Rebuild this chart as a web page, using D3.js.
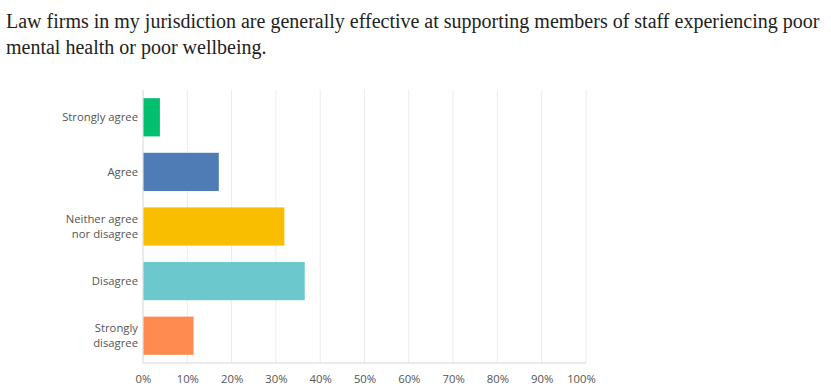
<!DOCTYPE html>
<html>
<head>
<meta charset="utf-8">
<script src="https://cdn.jsdelivr.net/npm/d3@7"></script>
<style>
  body { margin: 0; background: #fff; }
  .title { font-family: "Liberation Serif", "DejaVu Serif", serif; font-size: 20px; fill: #222; }
  .axis text, .cat text { font-family: "Open Sans", "Noto Sans", sans-serif; font-size: 11.3px; fill: #555; }
</style>
</head>
<body>
<div id="grafico"></div>
<script>
var categorias = ["Strongly agree", "Agree", "Neither agree\nnor disagree", "Disagree", "Strongly\ndisagree"];
var valores = [3.7, 17.0, 31.8, 36.4, 11.3];
var cores = ["#00bf6f", "#507cb6", "#f9be00", "#6bc8cd", "#ff8b4f"];
var ticks = [0, 10, 20, 30, 40, 50, 60, 70, 80, 90, 100];
var titulo = ["Law firms in my jurisdiction are generally effective at supporting members of staff experiencing poor",
              "mental health or poor wellbeing."];

var W = 831, H = 388;
var margin = {top: 90, right: 245, bottom: 25, left: 143},
    width = W - margin.left - margin.right,
    height = H - margin.top - margin.bottom;

var svg = d3.select("#grafico").append("svg")
    .attr("width", W)
    .attr("height", H);

// title
svg.selectAll("text.title")
    .data(titulo)
  .enter().append("text")
    .attr("class", "title")
    .attr("x", 6)
    .attr("y", function(d, i) { return 28 + i * 26; })
    .text(function(d) { return d; });

var g = svg.append("g")
    .attr("transform", "translate(" + margin.left + "," + margin.top + ")");

var x = d3.scaleLinear().domain([0, 100]).range([0, width]);
var y = d3.scaleBand().domain(d3.range(categorias.length)).range([0, height])
    .paddingInner(0.3).paddingOuter(0.15);

// gridlines
g.append("g")
    .selectAll("line")
    .data(ticks)
  .enter().append("line")
    .attr("x1", function(d) { return x(d); })
    .attr("x2", function(d) { return x(d); })
    .attr("y1", 0)
    .attr("y2", height)
    .style("stroke", function(d) { return d === 0 ? "#d6d6d6" : "#ececec"; })
    .style("stroke-width", 1);

// baseline
g.append("line")
    .attr("x1", 0).attr("x2", width)
    .attr("y1", height).attr("y2", height)
    .style("stroke", "#d6d6d6");

// bars
g.selectAll("rect.bar")
    .data(valores)
  .enter().append("rect")
    .attr("class", "bar")
    .attr("x", x(0) + 0.5)
    .attr("y", function(d, i) { return y(i); })
    .attr("width", function(d) { return x(d) - x(0); })
    .attr("height", y.bandwidth())
    .style("fill", function(d, i) { return cores[i]; });

// category labels
var cat = g.append("g").attr("class", "cat");
categorias.forEach(function(c, i) {
  var linhas = c.split("\n");
  var t = cat.append("text")
      .attr("text-anchor", "end")
      .attr("x", -5)
      .attr("y", y(i) + y.bandwidth() / 2 - (linhas.length - 1) * 7.5 + 4);
  linhas.forEach(function(l, j) {
    t.append("tspan").attr("x", -5).attr("dy", j === 0 ? 0 : 15).text(l);
  });
});

// x axis
g.append("g")
    .attr("class", "axis")
    .attr("transform", "translate(0," + height + ")")
    .call(d3.axisBottom(x).tickValues(ticks).tickSize(0).tickPadding(12)
        .tickFormat(function(d) { return d + "%"; }))
    .call(function(a) {
      a.select(".domain").remove();
      a.selectAll(".tick text").filter(function(d) { return d === 100; }).attr("dx", -5);
    });
</script>
</body>
</html>
